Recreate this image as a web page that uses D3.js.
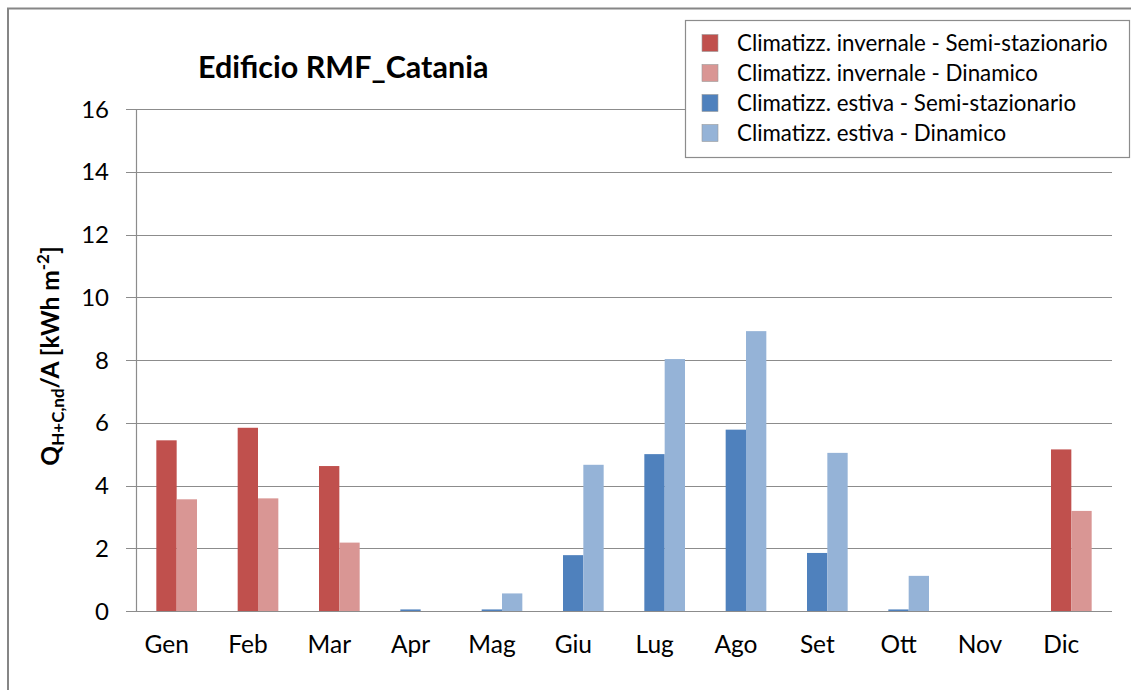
<!DOCTYPE html>
<html>
<head>
<meta charset="utf-8">
<script src="https://cdn.jsdelivr.net/npm/d3@7"></script>
<style>
  body { margin: 0; background: #fff; }
  svg text { font-family: Lato, "Open Sans", sans-serif; fill: #000; }
</style>
</head>
<body>
<div id="chart"></div>
<script>
// months on the category axis
const months = ["Gen", "Feb", "Mar", "Apr", "Mag", "Giu", "Lug", "Ago", "Set", "Ott", "Nov", "Dic"];

// kWh/m2 per month
const invernaleSemi = [5.44, 5.84, 4.62, 0, 0, 0, 0, 0, 0, 0, 0, 5.15];
const invernaleDin  = [3.56, 3.59, 2.18, 0, 0, 0, 0, 0, 0, 0, 0, 3.19];
const estivaSemi    = [0, 0, 0, 0.05, 0.05, 1.78, 5.00, 5.78, 1.85, 0.05, 0, 0];
const estivaDin     = [0, 0, 0, 0, 0.56, 4.66, 8.03, 8.92, 5.04, 1.12, 0, 0];

const seriesNames = [
  "Climatizz. invernale - Semi-stazionario",
  "Climatizz. invernale - Dinamico",
  "Climatizz. estiva - Semi-stazionario",
  "Climatizz. estiva - Dinamico"
];
const seriesColors = ["#c0504d", "#d99694", "#4f81bd", "#95b3d7"];
const yTicks = [0, 2, 4, 6, 8, 10, 12, 14, 16];

const series = [invernaleSemi, invernaleDin, estivaSemi, estivaDin].map((vals, i) => ({
  name: seriesNames[i],
  color: seriesColors[i],
  // semi-stazionario goes left, dinamico right
  slot: i % 2,
  values: vals
}));

const W = 1131, H = 690;
const svg = d3.select("#chart").append("svg")
  .attr("width", W)
  .attr("height", H);

// chart frame (cut off at right/bottom like the source)
svg.append("rect")
  .attr("x", 8).attr("y", 8.5)
  .attr("width", 1140).attr("height", 700)
  .attr("fill", "#fff")
  .attr("stroke", "#868686")
  .attr("stroke-width", 2);

const plot = {left: 136, right: 1112, top: 109, bottom: 611};

const x0 = d3.scaleBand()
  .domain(months)
  .range([plot.left, plot.right]);

const x1 = d3.scaleBand()
  .domain([0, 1])
  .range([x0.bandwidth() * 0.25, x0.bandwidth() * 0.75]);

const y = d3.scaleLinear()
  .domain([0, 16])
  .range([plot.bottom, plot.top]);

// gridlines
svg.append("g")
  .selectAll("line")
  .data(yTicks)
  .join("line")
  .attr("x1", plot.left - 10)
  .attr("x2", plot.right)
  .attr("y1", d => Math.round(y(d)) + 0.5)
  .attr("y2", d => Math.round(y(d)) + 0.5)
  .attr("stroke", "#8c8c8c")
  .attr("stroke-width", 1.2);

// y axis line
svg.append("line")
  .attr("x1", plot.left + 0.5).attr("x2", plot.left + 0.5)
  .attr("y1", plot.top).attr("y2", plot.bottom)
  .attr("stroke", "#8c8c8c")
  .attr("stroke-width", 1.2);

svg.append("g")
  .selectAll("text")
  .data(yTicks)
  .join("text")
  .attr("x", 109)
  .attr("y", d => y(d))
  .attr("dy", "0.36em")
  .attr("text-anchor", "end")
  .attr("font-size", 24)
  .text(d => d);

// bars
series.forEach(s => {
  svg.append("g")
    .selectAll("rect")
    .data(s.values.map((v, i) => ({month: months[i], v})).filter(d => d.v > 0))
    .join("rect")
    .attr("x", d => x0(d.month) + x1(s.slot))
    .attr("width", x1.bandwidth())
    .attr("y", d => y(d.v))
    .attr("height", d => y(0) - y(d.v))
    .attr("fill", s.color);
});

// zero axis on top of bars
svg.append("line")
  .attr("x1", plot.left - 10).attr("x2", plot.right)
  .attr("y1", Math.round(y(0)) + 0.5).attr("y2", Math.round(y(0)) + 0.5)
  .attr("stroke", "#8c8c8c")
  .attr("stroke-width", 1.2);

// month labels (sit a bit left of the band centre, as in the source)
svg.append("g")
  .selectAll("text")
  .data(months)
  .join("text")
  .attr("x", d => x0(d) + x0.bandwidth() / 2 - 10)
  .attr("y", 653)
  .attr("text-anchor", "middle")
  .attr("font-size", 24.5)
  .text(d => d);

// title
svg.append("text")
  .attr("x", 198)
  .attr("y", 78)
  .attr("font-size", 30.5)
  .attr("font-weight", "bold")
  .text("Edificio RMF_Catania");

// y axis title
const yt = svg.append("text")
  .attr("transform", "translate(59,356) rotate(-90)")
  .attr("text-anchor", "middle")
  .attr("font-size", 24.5)
  .attr("font-weight", "bold");
yt.append("tspan").text("Q");
yt.append("tspan").attr("font-size", 17).attr("dy", 5).text("H+C,nd");
yt.append("tspan").attr("dy", -5).text("/A [kWh m");
yt.append("tspan").attr("font-size", 17).attr("dy", -10).text("-2");
yt.append("tspan").attr("dy", 10).text("]");

// legend
const legend = svg.append("g");
legend.append("rect")
  .attr("x", 685.5).attr("y", 20.5)
  .attr("width", 444).attr("height", 137)
  .attr("fill", "#fff")
  .attr("stroke", "#8c8c8c")
  .attr("stroke-width", 1.2);

const item = legend.selectAll("g.item")
  .data(series)
  .join("g")
  .attr("class", "item")
  .attr("transform", (d, i) => `translate(0,${43 + i * 30})`);
item.append("rect")
  .attr("x", 702).attr("y", -8.5)
  .attr("width", 16).attr("height", 17)
  .attr("fill", d => d.color)
  .attr("stroke", "#9a9a9a")
  .attr("stroke-width", 0.6);
item.append("text")
  .attr("x", 737)
  .attr("dy", "0.36em")
  .attr("font-size", 22.3)
  .text(d => d.name);
</script>
</body>
</html>
